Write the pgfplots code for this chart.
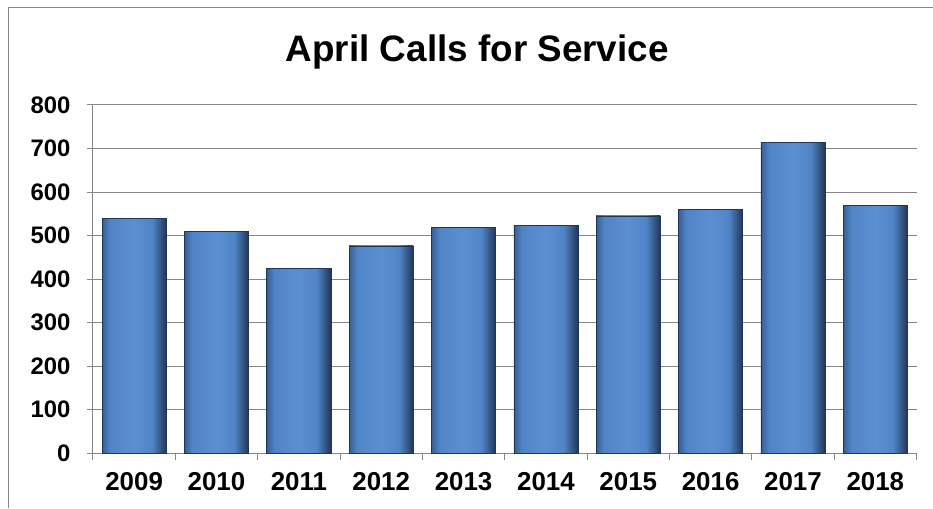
\documentclass[border=0pt]{standalone}
\usepackage{fontspec}
\setmainfont{Liberation Sans}
\usepackage{pgfplots}
\pgfplotsset{compat=1.18}

\definecolor{gridgray}{RGB}{134,134,134}
\definecolor{bvL}{RGB}{56,94,146}
\definecolor{bmid}{RGB}{80,132,198}
\definecolor{blt}{RGB}{90,144,210}
\definecolor{bvR}{RGB}{32,54,86}
\pgfdeclarehorizontalshading{bevelbar}{100bp}{color(0bp)=(bvL); color(25bp)=(bvL); color(31bp)=(bmid); color(50bp)=(blt); color(64bp)=(bmid); color(75bp)=(bvR); color(100bp)=(bvR)}

% one bar per \addplot so that each bar gets its own shading
\pgfplotsset{calls/.style={ybar, bar shift=0pt, bar width=0.78, shading=bevelbar, draw=bvR, line width=0.5bp}}

\begin{document}
\begin{tikzpicture}
\path (0,0) rectangle (933bp,508bp);
\draw[gridgray, line width=1bp] (9bp,0) -- (9bp,500bp) -- (933bp,500bp);
\node[font=\fontsize{37}{40}\selectfont\bfseries, anchor=base] at (477.5bp,446.3bp) {April Calls for Service};

\begin{axis}[
    at={(93bp,54.6bp)}, anchor=south west,
    scale only axis,
    width=824bp, height=348.4bp,
    xmin=-0.5, xmax=9.5,
    ymin=0, ymax=800,
    ytick={0,100,...,800},
    xtick={0,...,9},
    xticklabels={2009,2010,2011,2012,2013,2014,2015,2016,2017,2018},
    minor xtick={-0.5,0.5,...,9.5},
    axis x line*=bottom, axis y line*=left,
    axis line style={gridgray, line width=1bp, -},
    tick style={gridgray, line width=1bp},
    major x tick style={draw=none},
    tick align=outside,
    major tick length=6bp, minor tick length=7bp,
    ymajorgrids,
    major grid style={gridgray, line width=1bp},
    /pgf/number format/assume math mode=true,
    yticklabel style={font=\fontsize{24}{24}\selectfont\bfseries, xshift=-13bp},
    xticklabel style={font=\fontsize{26}{26}\selectfont\bfseries, yshift=-10bp},
]
\addplot[calls] coordinates {(0,540)};
\addplot[calls] coordinates {(1,509)};
\addplot[calls] coordinates {(2,424)};
\addplot[calls] coordinates {(3,476)};
\addplot[calls] coordinates {(4,519)};
\addplot[calls] coordinates {(5,523)};
\addplot[calls] coordinates {(6,545)};
\addplot[calls] coordinates {(7,560)};
\addplot[calls] coordinates {(8,714)};
\addplot[calls] coordinates {(9,569)};
\end{axis}
\end{tikzpicture}
\end{document}
